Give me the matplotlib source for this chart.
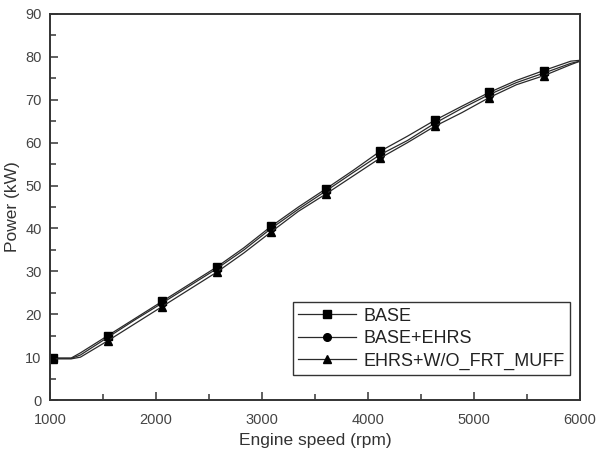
import numpy as np
import matplotlib.pyplot as plt
from matplotlib.ticker import MultipleLocator

plt.rcParams['font.family'] = ['Liberation Sans', 'DejaVu Sans']

# DATA
speed = [1030, 1200, 1287, 1544, 1801, 2058, 2315, 2572, 2829, 3086, 3343,
         3600, 3857, 4114, 4371, 4628, 4885, 5142, 5399, 5656, 5913, 6000]
marker_speed = [1030, 1544, 2058, 2572, 3086, 3600, 4114, 4628, 5142, 5656]

base = [9.8, 9.8, 11.0, 15.0, 19.0, 23.0, 27.0, 31.0, 35.5, 40.5, 45.0,
        49.2, 53.5, 58.0, 61.5, 65.2, 68.5, 71.7, 74.5, 76.8, 79.0, 79.2]
base_ehrs = [9.7, 9.7, 10.5, 14.6, 18.7, 22.6, 26.6, 30.6, 35.0, 40.0, 44.5,
             48.7, 53.0, 57.2, 60.5, 64.5, 68.0, 71.2, 74.0, 76.2, 78.5, 79.0]
ehrs_wo = [9.6, 9.6, 10.0, 13.8, 17.8, 21.8, 25.8, 29.8, 34.3, 39.2, 44.0,
           48.0, 52.2, 56.4, 60.0, 63.8, 67.0, 70.5, 73.5, 75.6, 78.2, 79.0]

labels = ['BASE', 'BASE+EHRS', 'EHRS+W/O_FRT_MUFF']
markers = ['s', 'o', '^']

# PLOT
fig = plt.figure(figsize=(5.99, 4.5), dpi=100)
ax = fig.add_axes([0.0835, 0.111, 0.885, 0.858])

marks = [i for i, s in enumerate(speed) if s in marker_speed]
for y, lab, m in zip([base, base_ehrs, ehrs_wo], labels, markers):
    ax.plot(speed, y, color='#2a2a2a', lw=0.9, marker=m, ms=5.5,
            mfc='black', mec='black', markevery=marks, label=lab)

ax.set_xlim(1000, 6000)
ax.set_ylim(0, 90)
ax.xaxis.set_major_locator(MultipleLocator(1000))
ax.xaxis.set_minor_locator(MultipleLocator(500))
ax.yaxis.set_major_locator(MultipleLocator(10))
ax.yaxis.set_minor_locator(MultipleLocator(5))
ax.tick_params(which='both', direction='in', top=False, right=False,
               colors='#444444', labelsize=10.5, width=1.2)
ax.tick_params(which='major', length=6)
ax.tick_params(which='minor', length=4)
ax.tick_params(axis='x', pad=9)
ax.tick_params(axis='y', pad=6)
for sp in ax.spines.values():
    sp.set_linewidth(1.4)
    sp.set_color('#333333')

ax.set_xlabel('Engine speed (rpm)', fontsize=12.5, color='#333333', labelpad=5)
ax.set_ylabel('Power (kW)', fontsize=12.5, color='#333333', labelpad=4)

leg = ax.legend(loc='lower right', bbox_to_anchor=(0.981, 0.065), fontsize=13,
                fancybox=False, edgecolor='#333333', framealpha=1,
                borderpad=0.3, labelspacing=0.3, handlelength=3.2,
                handletextpad=0.4, borderaxespad=0)
leg.get_frame().set_linewidth(1.0)
for t in leg.get_texts():
    t.set_color('#222222')

fig.savefig('out.png', dpi=100)
